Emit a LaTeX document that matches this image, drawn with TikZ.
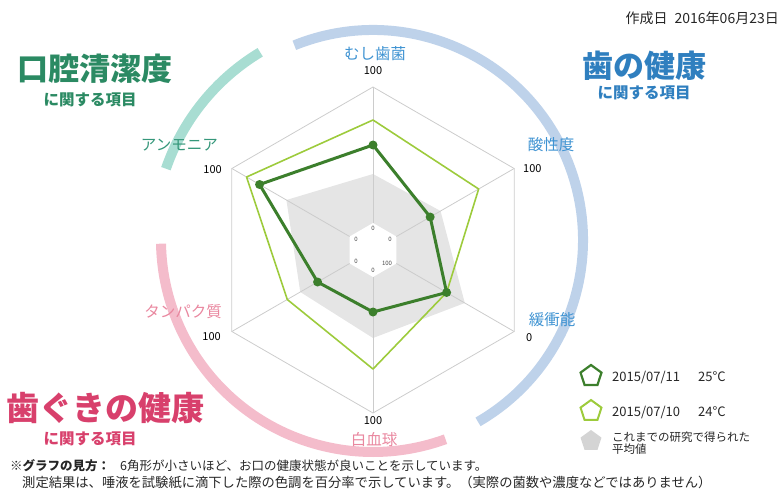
\documentclass[tikz,border=0pt]{standalone}
\usepackage{fontspec}
\newfontfamily\jp{Noto Sans CJK JP}
\usetikzlibrary{shapes.geometric}

\definecolor{mouthgreen}{HTML}{2B8A63}
\definecolor{toothblue}{HTML}{2F7FBF}
\definecolor{gumred}{HTML}{D8406C}
\definecolor{axblue}{HTML}{3F93D2}
\definecolor{axgreen}{HTML}{35977A}
\definecolor{axpink}{HTML}{E9879F}
\definecolor{bandblue}{HTML}{BED2EA}
\definecolor{bandteal}{HTML}{A8DDD2}
\definecolor{bandpink}{HTML}{F4BCCB}
\definecolor{darkgreen}{HTML}{3C7F2C}
\definecolor{lightgreen}{HTML}{9DCB3C}

\begin{document}
\begin{tikzpicture}
      [   x=1pt,y=1pt,
          ttl/.style={text=#1,font=\jp\bfseries\fontsize{31}{31}\selectfont,inner sep=0pt},
          sub/.style={text=#1,font=\jp\bfseries\fontsize{15.5}{16}\selectfont,inner sep=0pt},
          axl/.style={text=#1,font=\jp\fontsize{15.5}{16}\selectfont,inner sep=0pt},
          num/.style={font=\jp\fontsize{11}{11}\selectfont,inner sep=0pt},
          tinynum/.style={font=\jp\fontsize{6}{6}\selectfont,text=black!70,inner sep=0pt},
          legtxt/.style={font=\jp\fontsize{13}{14}\selectfont,text=black!85,inner sep=0pt,align=left},
          note/.style={font=\jp\fontsize{12.5}{13}\selectfont,text=black!85,inner sep=0pt},
          band/.style={draw=#1,line width=10pt},
          gridline/.style={draw=black!20,line width=0.8pt},
          dot/.style={circle,fill=darkgreen,inner sep=0pt,minimum size=9pt},
          penta/.style={regular polygon,regular polygon sides=5,minimum size=22pt,inner sep=0pt},
      ]
          \useasboundingbox (0,0) rectangle (783,-492);

          % colour bands round the chart
          \begin{scope}[shift={(373,-240)}]
              \draw[band=bandblue] (112:210) arc[start angle=112,end angle=-60,radius=210];
              \draw[band=bandteal] (121:219) arc[start angle=121,end angle=161,radius=219];
              \draw[band=bandpink] (181:212) arc[start angle=181,end angle=290,radius=212];
          \end{scope}

          % radar chart
          \begin{scope}[shift={(373,-250)}]
              \fill[black!10] (90:76) -- (30:78) -- (-30:106) -- (-90:88) -- (-150:84) -- (150:100) -- cycle;
              \fill[white] (90:27) -- (30:27) -- (-30:27) -- (-90:27) -- (-150:27) -- (150:27) -- cycle;
              \foreach \a in {90,30,...,-210}
                  \draw[gridline] (\a:27) -- (\a:163);
              \draw[gridline] (90:163) -- (30:163) -- (-30:163) -- (-90:163) -- (-150:163) -- (150:163) -- cycle;
              \draw[lightgreen,line width=1.6pt,line join=round]
                  (90:130) -- (30:122) -- (-30:85) -- (-90:119) -- (-150:99) -- (150:146) -- cycle;
              \foreach \a/\r [count=\i] in {90/105,30/66,-30/85,-90/62,-150/64,150/131}
                  \node[dot] (d\i) at (\a:\r) {};
              \draw[darkgreen,line width=3pt,line join=round]
                  (d1.center) -- (d2.center) -- (d3.center) -- (d4.center) -- (d5.center) -- (d6.center) -- cycle;
              % inner scale
              \node[tinynum] (z1) at (0,22) {0};
              \node[tinynum] (z2) at (17,11) {0};
              \node[tinynum] (z3) at (14,-13) {100};
              \node[tinynum] (z4) at (0,-20) {0};
              \node[tinynum] (z5) at (-17,-11) {0};
              \node[tinynum] (z6) at (-17,11) {0};
          \end{scope}

          % axis names
          \node[axl=axblue] (mushi) at (375,-54) {むし歯菌};
          \node[num] (mushi-v) at (373,-71) {100};
          \node[axl=axblue] (san) at (551,-145) {酸性度};
          \node[num,anchor=west] (san-v) at (523,-169) {100};
          \node[axl=axblue] (kan) at (552,-320) {緩衝能};
          \node[num,anchor=west] (kan-v) at (526,-338) {0};
          \node[axl=axpink] (haku) at (374,-440) {白血球};
          \node[num] (haku-v) at (373,-421) {100};
          \node[axl=axpink,anchor=east] (tan) at (222,-312) {タンパク質};
          \node[num,anchor=east] (tan-v) at (221,-337) {100};
          \node[axl=axgreen,anchor=east] (amo) at (218,-145) {アンモニア};
          \node[num,anchor=east] (amo-v) at (222,-170) {100};

          % group titles
          \node[ttl=mouthgreen,anchor=west] (t1) at (17,-69) {口腔清潔度};
          \node[sub=mouthgreen] (t1-s) at (90,-100) {に関する項目};
          \node[ttl=toothblue] (t2) at (644,-66) {歯の健康};
          \node[sub=toothblue] (t2-s) at (644,-93) {に関する項目};
          \node[ttl=gumred,anchor=west,font=\jp\bfseries\fontsize{33}{33}\selectfont] (t3) at (6,-408) {歯ぐきの健康};
          \node[sub=gumred] (t3-s) at (90,-439) {に関する項目};

          \node[font=\jp\fontsize{14}{14}\selectfont,text=black!85,anchor=east,inner sep=0pt] (date) at (779,-18)
              {作成日\hspace{7pt}2016年06月23日};

          % legend
          \node[penta,draw=darkgreen,line width=2.2pt] (k1) at (591,-376) {};
          \node[legtxt,anchor=west] (k1-t) at (612,-377) {2015/07/11\hspace{18pt}25°C};
          \node[penta,draw=lightgreen,line width=2pt] (k2) at (591,-411) {};
          \node[legtxt,anchor=west] (k2-t) at (612,-412) {2015/07/10\hspace{18pt}24°C};
          \node[penta,fill=black!17] (k3) at (591,-441) {};
          \node[legtxt,anchor=west,font=\jp\fontsize{11.5}{12.5}\selectfont] (k3-t) at (612,-443) {これまでの研究で得られた\\平均値};

          % notes
          \node[note,anchor=west] (n1) at (10,-466)
              {\textbf{※グラフの見方：}\hspace{10pt}6角形が小さいほど、お口の健康状態が良いことを示しています。};
          \node[note,anchor=west,font=\jp\fontsize{13.3}{14}\selectfont] (n2) at (22,-482)
              {測定結果は、唾液を試験紙に滴下した際の色調を百分率で示しています。（実際の菌数や濃度などではありません）};
    \end{tikzpicture}
\end{document}
